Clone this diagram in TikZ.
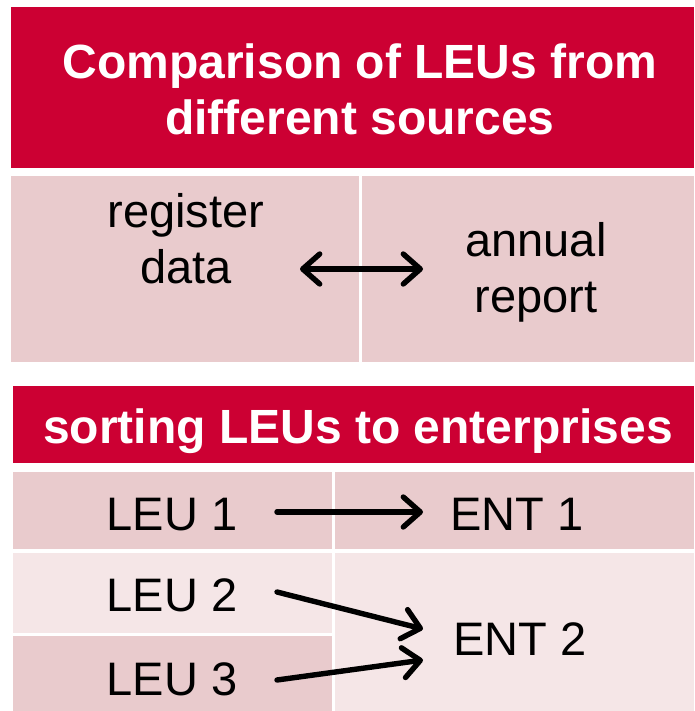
\documentclass[tikz,border=0pt]{standalone}
\usepackage{fontspec}
\setmainfont{Liberation Sans}
\usepackage{xcolor}
\usepackage{tikz}
\usetikzlibrary{arrows.meta}
\definecolor{headred}{HTML}{CC0033}
\definecolor{cellpink}{HTML}{E9CBCD}
\definecolor{celllight}{HTML}{F5E6E7}
\tikzset{
  head/.style={fill=headred, draw=none},
  cell/.style={fill=cellpink, draw=none},
  celll/.style={fill=celllight, draw=none},
  headtxt/.style={text=white, font=\fontsize{48}{56}\selectfont\bfseries, align=center, anchor=base, inner sep=0pt},
  txt/.style={text=black, font=\fontsize{47}{56}\selectfont, align=center, anchor=base, inner sep=0pt},
  link/.style={draw=black, line width=5.4pt, line cap=round,
    -{Straight Barb[length=17pt, width=30pt, round]}},
  dlink/.style={link, {Straight Barb[length=17pt, width=30pt, round]}-{Straight Barb[length=17pt, width=30pt, round]}}
}

\begin{document}
\begin{tikzpicture}[x=1pt, y=-1pt]
  \useasboundingbox (0,0) rectangle (694,711);
  % first block
  \fill[head] (11,7) rectangle (694,168);
  \fill[cell] (11,176) rectangle (359,362);
  \fill[cell] (362,176) rectangle (694,362);
  \node[headtxt] (title) at (360,135) {Comparison of LEUs from\\different sources};
  \node[txt] (reg) at (186,283) {register\\data};
  \node[txt] (ann) at (536,312) {annual\\report};
  \coordinate (regE) at (300,269);
  \coordinate (annW) at (423,269);
  \draw[dlink] (regE) -- (annW);
  % second block
  \fill[head] (13,386) rectangle (694,463);
  \fill[cell] (13,472) rectangle (332,549);
  \fill[cell] (335,472) rectangle (694,549);
  \fill[celll] (13,553) rectangle (332,633);
  \fill[cell] (13,636) rectangle (332,711);
  \fill[celll] (335,553) rectangle (694,711);
  \node[headtxt] (sort) at (358,443) {sorting LEUs to enterprises};
  \node[txt] (leu1) at (172,530) {LEU 1};
  \node[txt] (leu2) at (172,611) {LEU 2};
  \node[txt] (leu3) at (172,695) {LEU 3};
  \node[txt] (ent1) at (517,530) {ENT 1};
  \node[txt] (ent2) at (520,655) {ENT 2};
  \coordinate (l1) at (277,512);
  \coordinate (l2) at (277,592);
  \coordinate (l3) at (277,680);
  \coordinate (e1) at (423,512);
  \coordinate (e2a) at (423,629);
  \coordinate (e2b) at (423,660);
  \draw[link] (l1) -- (e1);
  \draw[link] (l2) -- (e2a);
  \draw[link] (l3) -- (e2b);
\end{tikzpicture}
\end{document}
